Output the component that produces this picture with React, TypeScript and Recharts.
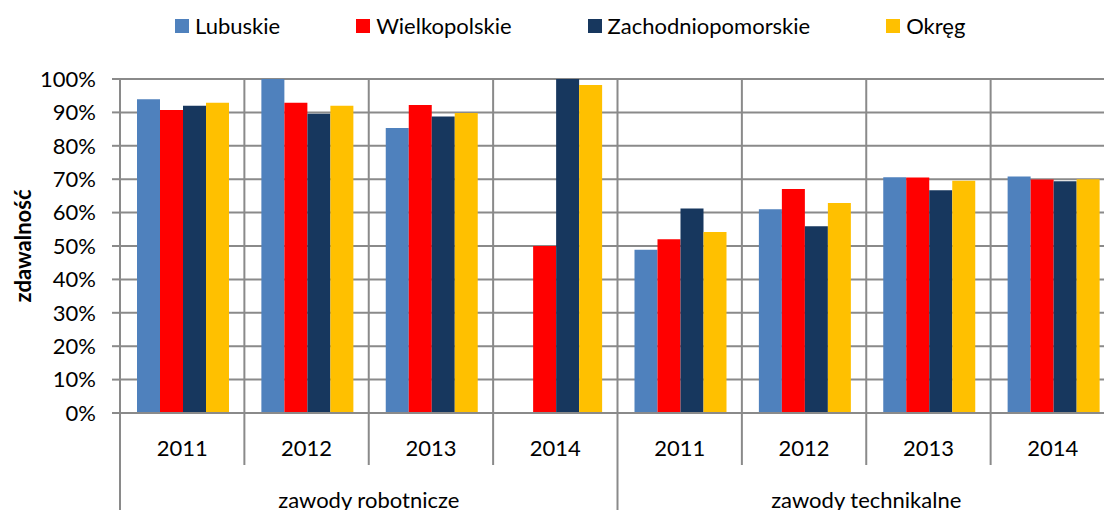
import { Bar, BarChart, CartesianGrid, Label, Legend, XAxis, YAxis } from "recharts";

const groups = ["zawody robotnicze", "zawody technikalne"];
const years = ["2011", "2012", "2013", "2014"];

const lubuskie = [0.939, 1.0, 0.853, null, 0.489, 0.61, 0.706, 0.708];
const wielkopolskie = [0.907, 0.929, 0.922, 0.5, 0.52, 0.671, 0.705, 0.699];
const zachodniopomorskie = [0.92, 0.896, 0.888, 1.0, 0.612, 0.559, 0.667, 0.694];
const okreg = [0.929, 0.92, 0.898, 0.982, 0.542, 0.629, 0.695, 0.7];

const yTicks = [0, 0.1, 0.2, 0.3, 0.4, 0.5, 0.6, 0.7, 0.8, 0.9, 1];

const series = [
  { key: "lubuskie", name: "Lubuskie", color: "#4F81BD" },
  { key: "wielkopolskie", name: "Wielkopolskie", color: "#FF0000" },
  { key: "zachodniopomorskie", name: "Zachodniopomorskie", color: "#17375E" },
  { key: "okreg", name: "Okręg", color: "#FFC000" },
];

const data = groups.flatMap((group, gi) =>
  years.map((year, yi) => {
    const i = gi * years.length + yi;
    return {
      group,
      year,
      lubuskie: lubuskie[i],
      wielkopolskie: wielkopolskie[i],
      zachodniopomorskie: zachodniopomorskie[i],
      okreg: okreg[i],
    };
  })
);

const FONT = "Lato, 'Noto Sans', sans-serif";
const GRID = "#8a8a8a";
const CHART_W = 1120;
const CHART_H = 510;
const Y_W = 120;
const MARGIN = { top: 0, right: 5, left: 0, bottom: 0 };
const BAND = (CHART_W - MARGIN.left - MARGIN.right - Y_W) / data.length;

function pct(v: number) {
  return `${Math.round(v * 100)}%`;
}

function LegendBox() {
  return (
    <div style={{ height: 79, position: "relative", fontFamily: FONT }}>
      <div
        style={{
          position: "absolute",
          top: 14,
          left: 175,
          display: "flex",
          alignItems: "center",
          gap: 76,
          height: 24,
          whiteSpace: "nowrap",
        }}
      >
        {series.map((s) => (
          <div key={s.key} style={{ display: "flex", alignItems: "center" }}>
            <span style={{ width: 14, height: 14, background: s.color, marginRight: 6 }} />
            <span style={{ fontSize: 22, color: "#000", lineHeight: "24px" }}>{s.name}</span>
          </div>
        ))}
      </div>
    </div>
  );
}

function YearTick(props: any) {
  const { x, y, payload, index } = props;
  const left = x - BAND / 2;
  const groupStart = index % years.length === 0;
  const last = index === data.length - 1;
  return (
    <g>
      <line x1={left} y1={y} x2={left} y2={groupStart ? y + 100 : y + 52} stroke={GRID} strokeWidth={2} />
      {last && <line x1={x + BAND / 2} y1={y} x2={x + BAND / 2} y2={y + 100} stroke={GRID} strokeWidth={2} />}
      <text x={x} y={y + 43} textAnchor="middle" fontSize={22} fill="#000" fontFamily={FONT}>
        {payload.value}
      </text>
      {groupStart && (
        <text
          x={left + (BAND * years.length) / 2}
          y={y + 95}
          textAnchor="middle"
          fontSize={22}
          fill="#000"
          fontFamily={FONT}
        >
          {data[index].group}
        </text>
      )}
    </g>
  );
}

function YTitle(props: any) {
  const vb = props.viewBox;
  const cx = vb.x + 31;
  const cy = vb.y + vb.height / 2;
  return (
    <text
      x={cx}
      y={cy}
      transform={`rotate(-90 ${cx} ${cy})`}
      textAnchor="middle"
      fontSize={22}
      fontWeight="bold"
      fill="#000"
      fontFamily={FONT}
    >
      zdawalność
    </text>
  );
}

export default function App() {
  return (
    <div
      style={{
        position: "fixed",
        left: 0,
        top: 0,
        width: 1104,
        height: 510,
        overflow: "hidden",
        background: "#fff",
      }}
    >
      <BarChart
        width={CHART_W}
        height={CHART_H}
        data={data}
        margin={MARGIN}
        barCategoryGap={17}
        barGap={0}
        style={{ fontFamily: FONT }}
      >
        <Legend verticalAlign="top" align="left" content={<LegendBox />} />
        <CartesianGrid
          stroke={GRID}
          strokeWidth={2}
          verticalCoordinatesGenerator={({ offset }: any) =>
            data.map((_, i) => offset.left + i * (offset.width / data.length)).concat(offset.left + offset.width)
          }
        />
        <XAxis
          dataKey="year"
          interval={0}
          height={97}
          tickSize={0}
          tickMargin={0}
          axisLine={{ stroke: GRID, strokeWidth: 2 }}
          tick={<YearTick />}
        />
        <YAxis
          width={Y_W}
          domain={[0, 1]}
          ticks={yTicks}
          tickFormatter={pct}
          tickSize={8}
          tickMargin={16}
          axisLine={{ stroke: GRID, strokeWidth: 2 }}
          tickLine={{ stroke: GRID, strokeWidth: 2 }}
          tick={{ fill: "#000", fontSize: 22, fontFamily: FONT }}
        >
          <Label content={<YTitle />} />
        </YAxis>
        {series.map((s) => (
          <Bar key={s.key} dataKey={s.key} name={s.name} fill={s.color} isAnimationActive={false} />
        ))}
      </BarChart>
    </div>
  );
}
